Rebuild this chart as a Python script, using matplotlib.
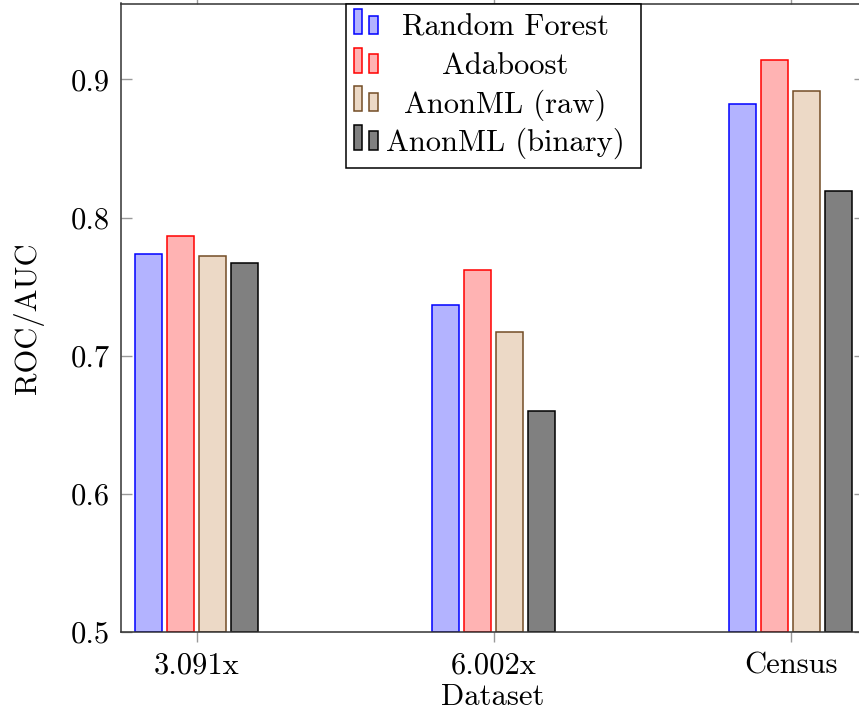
import matplotlib

matplotlib.use("Agg")
import matplotlib.pyplot as plt
import numpy as np
from matplotlib.patches import Rectangle

plt.rcParams["font.family"] = "serif"
plt.rcParams["font.serif"] = ["cmr10", "DejaVu Serif"]
plt.rcParams["axes.formatter.use_mathtext"] = True

datasets = ["3.091x", "6.002x", "Census"]
methods = ["Random Forest", "Adaboost", "AnonML (raw)", "AnonML (binary)"]
random_forest = [0.774, 0.737, 0.882]
adaboost = [0.787, 0.762, 0.914]
anonml_raw = [0.772, 0.717, 0.892]
anonml_binary = [0.767, 0.660, 0.819]
yticks = [0.5, 0.6, 0.7, 0.8, 0.9]

# pgfplots default bar cycle: (edge, fill)
STYLES = [("#0000ff", "#b3b3ff"), ("#ff0000", "#ffb3b3"),
          ("#734d26", "#ecd9c6"), ("#000000", "#808080")]
FS = 22

fig = plt.figure(figsize=(8.59, 7.13), dpi=100)
# right spine sits just outside the canvas, like the cropped original
ax = fig.add_axes([121 / 859, 81 / 713, 744 / 859, 628.5 / 713])

x = np.arange(len(datasets))
width, step = 0.091, 0.1077
series = [random_forest, adaboost, anonml_raw, anonml_binary]
for i, vals in enumerate(series):
    edge, fill = STYLES[i]
    ax.bar(x + (i - 1.5) * step, np.array(vals) - 0.5, width, bottom=0.5,
           facecolor=fill, edgecolor=edge, linewidth=1.1, zorder=2)

ax.set_xlim(-0.255, 2.25)
ax.set_ylim(0.5, 0.955)
ax.set_xticks(x)
ax.set_xticklabels(datasets, fontsize=FS)
ax.set_yticks(yticks)
ax.set_yticklabels([f"{v:.1f}" for v in yticks], fontsize=FS)
ax.tick_params(axis="x", direction="out", length=7, width=1.0, color="#999999",
               top=True, pad=7.5)
ax.tick_params(axis="y", direction="in", length=8, width=1.0, color="#999999",
               right=True, pad=8)
for spine in ax.spines.values():
    spine.set_linewidth(1.1)
    spine.set_color("#333333")
ax.set_xlabel("Dataset", fontsize=FS, labelpad=3)
ax.set_ylabel("ROC/AUC", fontsize=FS)
ax.yaxis.set_label_coords(-0.104, 0.5)

# legend drawn pgfplots-style: two mini bars per entry, centred text
def px(xp, yp):
    return (xp - 121) / 744, 1 - (yp - 3.5) / 628.5

bx0, by1 = px(346, 4)
bx1, by0 = px(641, 168)
ax.add_patch(Rectangle((bx0, by0), bx1 - bx0, by1 - by0, transform=ax.transAxes,
                       facecolor="white", edgecolor="black", linewidth=1.1,
                       zorder=5, clip_on=False))
for i, name in enumerate(methods):
    edge, fill = STYLES[i]
    base = 34.3 + 38.5 * i
    for xl, xr, hgt in [(353.6, 361.7, 25), (369.3, 378.3, 18.6)]:
        (ax0, ay0), (ax1, ay1) = px(xl, base), px(xr, base - hgt)
        ax.add_patch(Rectangle((ax0, ay0), ax1 - ax0, ay1 - ay0,
                               transform=ax.transAxes, facecolor=fill,
                               edgecolor=edge, linewidth=1.1, zorder=6,
                               clip_on=False))
    tx, ty = px(505, 35.5 + 38.5 * i)
    ax.text(tx, ty, name, transform=ax.transAxes, ha="center", va="baseline",
            fontsize=FS, zorder=7)

fig.savefig("out.png", dpi=100)
